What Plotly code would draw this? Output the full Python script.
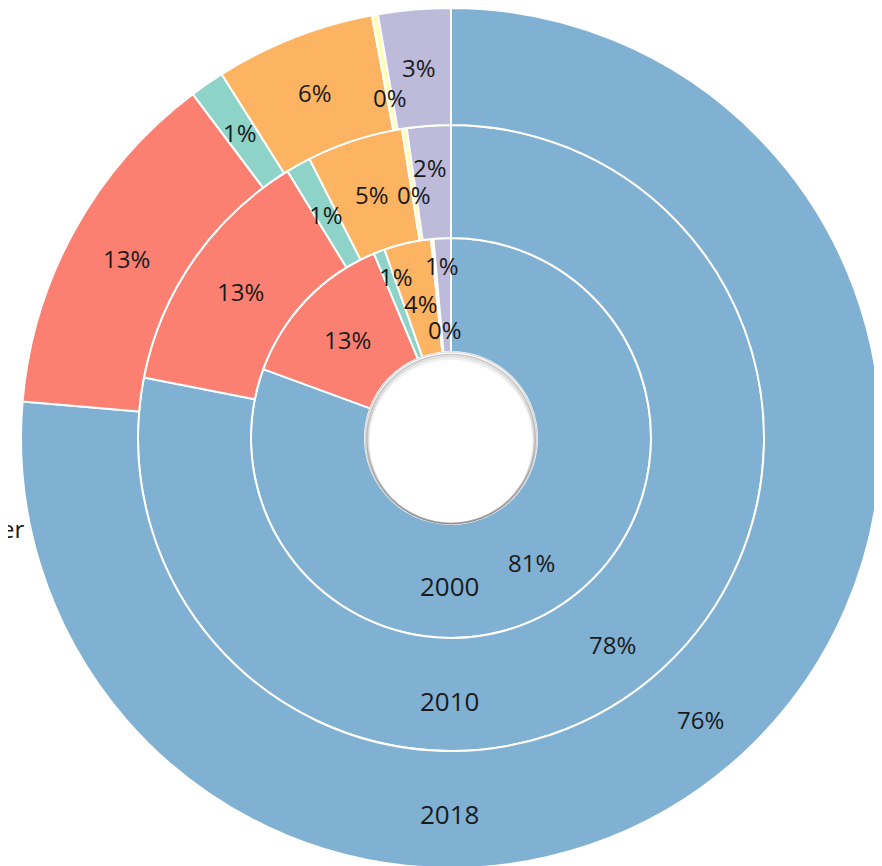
import math
import plotly.graph_objects as go

categories = ["Blue", "Red", "Green", "Orange", "Yellow", "Purple"]
colors = ["#80b1d3", "#fb8072", "#8dd3c7", "#fdb462", "#ffffb3", "#bebada"]
years = ["2000", "2010", "2018"]
values_2000 = [80.6, 13.1, 0.9, 3.8, 0.2, 1.4]
values_2010 = [78.1, 13.15, 1.28, 4.96, 0.25, 2.26]
values_2018 = [76.35, 13.4, 1.3, 6.0, 0.23, 2.72]
series = [values_2000, values_2010, values_2018]

W, H = 882, 866
BODY = 8                     # default page margin of the html body
FX, FY = 451 - BODY, 438 - BODY   # centre in figure pixels (from top-left)
radii = [86, 200, 313, 430]

# label nudges (radial px, angular deg) to keep small labels apart
nudges = {
    (0, 0): (5, 2), (0, 2): (28, 2.3), (0, 3): (-5, 0), (0, 4): (-34, 2), (0, 5): (30, -0.5),
    (1, 0): (6, 1.4), (1, 4): (-10, 0), (1, 5): (15, -0.3),
    (2, 0): (5, 1), (2, 4): (-26, 0),
}

def paper(xpx, ypx):
    return xpx / W, 1 - ypx / H

fig = go.Figure()
for i, vals in enumerate(series):
    r_in, r_out = radii[i], radii[i + 1]
    yb = H - FY
    fig.add_trace(go.Pie(
        labels=categories, values=vals, sort=False, direction="clockwise",
        rotation=0, hole=r_in / r_out,
        domain=dict(x=[(FX - r_out) / W, (FX + r_out) / W],
                    y=[max(0, (yb - r_out) / H), min(1, (yb + r_out) / H)]),
        marker=dict(colors=colors, line=dict(color="white", width=2)),
        textinfo="none", showlegend=False, hoverinfo="label+percent", name=years[i],
    ))
    total = sum(vals)
    cum = 0.0
    for j, v in enumerate(vals):
        mid = (cum + v / 2) / total * 360
        cum += v
        dr, da = nudges.get((i, j), (0, 0))
        r = (r_in + r_out) / 2 + dr
        th = math.radians(mid + da)
        x, y = paper(FX + r * math.sin(th), FY - r * math.cos(th))
        fig.add_annotation(x=x, y=y, xref="paper", yref="paper",
                           text=f"{round(v / total * 100)}%", showarrow=False,
                           xanchor="center", yanchor="middle",
                           font=dict(size=24, color="#1a1a1a", family="Open Sans"))

# year labels on each ring
year_pos = [586, 701, 814]
for y_lbl, ypx in zip(years, year_pos):
    x, y = paper(450 - BODY, ypx - BODY)
    fig.add_annotation(x=x, y=y, xref="paper", yref="paper",
                       text=y_lbl, showarrow=False, xanchor="center", yanchor="middle",
                       font=dict(size=26, color="#1a1a1a", family="Open Sans"))

# legend fragment cut off at the left edge
x, y = paper(26 - BODY, 520)
fig.add_annotation(x=x, y=y, xref="paper", yref="paper",
                   text="Other", showarrow=False, xanchor="right", yanchor="middle",
                   font=dict(size=24, color="#1a1a1a", family="Open Sans"))

# hole outline with soft inner shadow at the top
shadow = [(86, 0, "#d6d6d6", 1.2), (84.5, 1.0, "rgba(0,0,0,0.22)", 1.5),
          (83.5, 2.0, "rgba(0,0,0,0.12)", 2), (82.5, 3.2, "rgba(0,0,0,0.06)", 2.5)]
for r, dy, col, w in shadow:
    fig.add_shape(type="circle", xref="paper", yref="paper",
                  x0=(FX - r) / W, x1=(FX + r) / W,
                  y0=(H - FY - dy - r) / H, y1=(H - FY - dy + r) / H,
                  line=dict(color=col, width=w), fillcolor="rgba(0,0,0,0)", layer="above")

fig.update_layout(
    width=W, height=H, margin=dict(l=0, r=0, t=0, b=0),
    paper_bgcolor="white", plot_bgcolor="white",
    font=dict(family="Open Sans"),
)
fig.write_html("out.html")
